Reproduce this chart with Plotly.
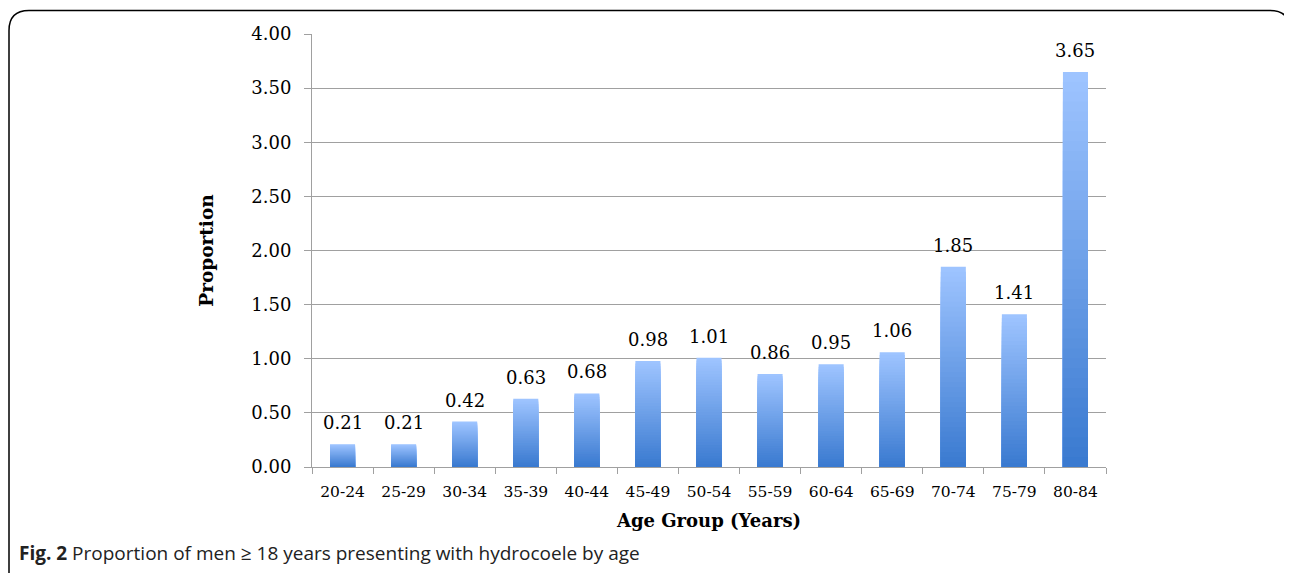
import plotly.graph_objects as go

categories = ["20-24", "25-29", "30-34", "35-39", "40-44", "45-49", "50-54",
              "55-59", "60-64", "65-69", "70-74", "75-79", "80-84"]
values = [0.21, 0.21, 0.42, 0.63, 0.68, 0.98, 1.01, 0.86, 0.95, 1.06, 1.85, 1.41, 3.65]
y_ticks = [0, 0.5, 1.0, 1.5, 2.0, 2.5, 3.0, 3.5, 4.0]

OFF = 8  # page body margin
W, H = 1292 - OFF, 573 - OFF
L = 312 - OFF
T = 33.5 - OFF
plot_bottom = 467 - OFF
plot_right = 1106 - OFF
B = H - plot_bottom
R = W - plot_right
pw, ph = plot_right - L, plot_bottom - T

def px_x(p):
    return (p - OFF - L) / pw

def px_y(p):
    return (plot_bottom - (p - OFF)) / ph

top_rgb = (158, 196, 255)
bot_rgb = (58, 122, 208)
N = 40

fig = go.Figure()
for k in range(N):
    f = 1 - k / N
    t = k / (N - 1)
    c = tuple(round(top_rgb[i] + (bot_rgb[i] - top_rgb[i]) * t) for i in range(3))
    fig.add_trace(go.Bar(
        x=categories,
        y=[v * f for v in values],
        marker=dict(color="rgb(%d,%d,%d)" % c, line=dict(width=0)),
        hoverinfo="skip",
        showlegend=False,
    ))

# value labels above bars
for cat, v in zip(categories, values):
    fig.add_annotation(
        x=cat, y=v, xref="x", yref="y", text=f"{v:.2f}", showarrow=False,
        xanchor="center", yanchor="bottom", yshift=9,
        font=dict(family="DejaVu Serif", size=18, color="black"),
    )

fig.update_layout(
    width=W, height=H,
    margin=dict(l=L, r=R, t=T, b=B, pad=0),
    paper_bgcolor="white", plot_bgcolor="white",
    barmode="overlay", bargap=0.59,
    font=dict(family="DejaVu Serif", color="black"),
    xaxis=dict(
        type="category", tickson="boundaries", ticks="outside", ticklen=6,
        tickcolor="#A0A0A0", showline=True, linecolor="#A0A0A0", linewidth=1,
        showgrid=False, tickfont=dict(size=15.5, family="DejaVu Serif"),
        ticklabelstandoff=10,
        title=dict(text="<b>Age Group (Years)</b>", font=dict(size=18, family="DejaVu Serif"),
                   standoff=14),
    ),
    yaxis=dict(
        range=[0, 4.0], tickvals=y_ticks, tickformat=".2f", ticks="outside", ticklen=7,
        tickcolor="#A0A0A0", showline=True, linecolor="#A0A0A0", linewidth=1,
        showgrid=True, gridcolor="#A0A0A0", gridwidth=1, zeroline=False,
        tickfont=dict(size=18, family="DejaVu Serif"),
        ticklabelstandoff=9,
        title=dict(text="<b>Proportion</b>", font=dict(size=18.5, family="DejaVu Serif"),
                   standoff=32),
    ),
)

# rounded border box
x0, x1 = px_x(9), px_x(1290)
yt, yb = px_y(10), px_y(600)
rx = 20 / pw
ry = 20 / ph
path = (f"M {x0},{yb} L {x0},{yt - ry} Q {x0},{yt} {x0 + rx},{yt} "
        f"L {x1 - rx},{yt} Q {x1},{yt} {x1},{yt - ry} L {x1},{yb}")
fig.add_shape(type="path", path=path, xref="paper", yref="paper",
              line=dict(color="black", width=1.5))

fig.add_annotation(
    x=px_x(17), y=px_y(553), xref="paper", yref="paper", xanchor="left", yanchor="middle",
    text="<b>Fig. 2</b> Proportion of men ≥ 18 years presenting with hydrocoele by age",
    showarrow=False, font=dict(family="Open Sans", size=19, color="#222222"),
)

fig.write_html("out.html")
